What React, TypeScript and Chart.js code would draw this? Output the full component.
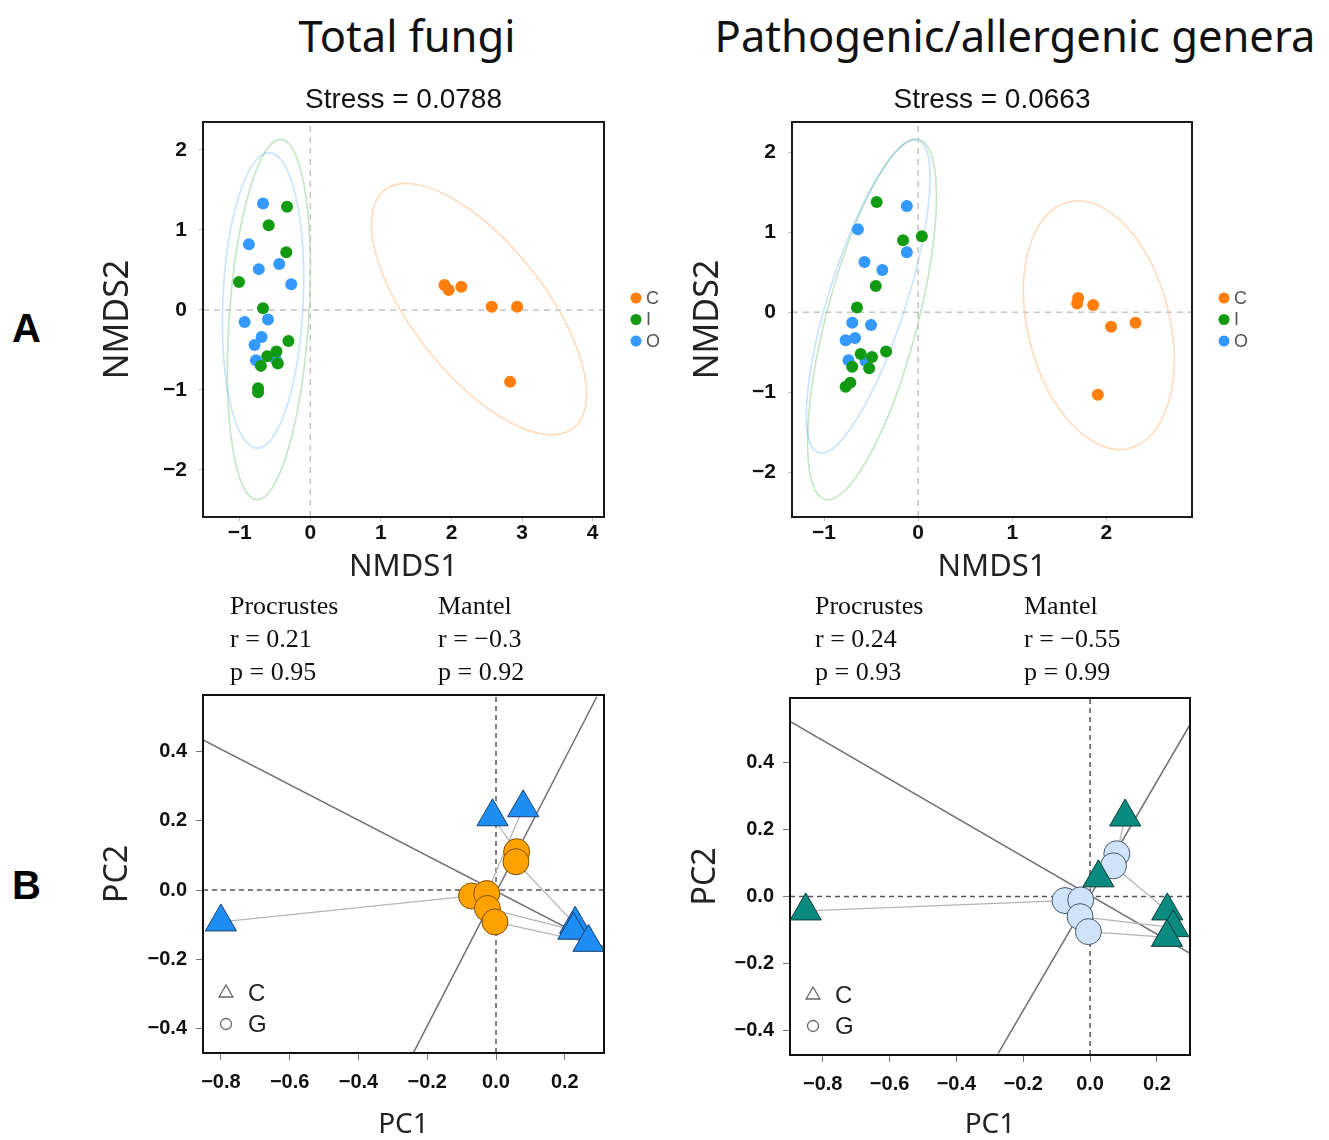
import React, { useEffect, useRef } from 'react';
import { Chart, registerables } from 'chart.js';

Chart.register(...registerables);
Chart.defaults.font.family = '"Liberation Sans", Arial, sans-serif';

// ---------------- Panel A : NMDS data ----------------
const groupNames = ['C', 'I', 'O'];
const groupColors = ['#ff7d0a', '#129a12', '#3399ff'];
const ellipseColors = ['rgba(255,125,10,0.28)', 'rgba(18,154,18,0.25)', 'rgba(51,153,255,0.28)'];

// Total fungi
const totalC = [[1.90, 0.31], [1.96, 0.25], [2.14, 0.29], [2.57, 0.04], [2.93, 0.04], [2.83, -0.90]];
const totalI = [[-0.33, 1.29], [-0.59, 1.06], [-0.34, 0.72], [-1.01, 0.35], [-0.67, 0.02], [-0.31, -0.39],
  [-0.48, -0.52], [-0.61, -0.58], [-0.70, -0.70], [-0.46, -0.67], [-0.74, -0.98], [-0.74, -1.03]];
const totalO = [[-0.67, 1.33], [-0.87, 0.82], [-0.73, 0.51], [-0.44, 0.575], [-0.27, 0.32], [-0.93, -0.15],
  [-0.60, -0.12], [-0.69, -0.34], [-0.79, -0.44], [-0.77, -0.63], [-0.49, -0.62]];
// ellipse: centre x, centre y, semi-axis u (x,y), semi-axis v (x,y) in data units
const totalEllC = [2.39, 0.01, -1.342, 1.486, 0.723, 0.514];
const totalEllI = [-0.587, -0.121, 0.173, 2.254, 0.561, -0.034];
const totalEllO = [-0.669, 0.119, 0.089, 1.848, 0.568, -0.021];
const totalXRange = [-1.52, 4.16];
const totalYRange = [-2.59, 2.35];
const totalXTicks = [-1, 0, 1, 2, 3, 4];
const totalXLabels = ['\u22121', '0', '1', '2', '3', '4'];

// Pathogenic / allergenic genera
const pathC = [[1.70, 0.18], [1.69, 0.11], [1.86, 0.09], [2.05, -0.18], [2.31, -0.13], [1.91, -1.03]];
const pathI = [[-0.44, 1.38], [-0.16, 0.90], [0.04, 0.95], [-0.45, 0.33], [-0.65, 0.06], [-0.34, -0.49],
  [-0.61, -0.52], [-0.49, -0.56], [-0.70, -0.68], [-0.52, -0.70], [-0.72, -0.88], [-0.77, -0.93]];
const pathO = [[-0.12, 1.33], [-0.64, 1.04], [-0.12, 0.75], [-0.57, 0.63], [-0.38, 0.53], [-0.70, -0.13],
  [-0.50, -0.16], [-0.67, -0.32], [-0.77, -0.35], [-0.74, -0.60], [-0.56, -0.61]];
const pathEllC = [1.92, -0.16, -0.326, 1.54, 0.731, 0.214];
const pathEllI = [-0.49, -0.09, 0.50, 2.25, 0.468, -0.144];
const pathEllO = [-0.53, 0.20, 0.528, 1.956, 0.391, -0.146];
const pathXRange = [-1.34, 2.91];
const pathYRange = [-2.56, 2.38];
const pathXTicks = [-1, 0, 1, 2];
const pathXLabels = ['\u22121', '0', '1', '2'];

const nmdsYTicks = [-2, -1, 0, 1, 2];
const nmdsYLabels = ['\u22122', '\u22121', '0', '1', '2'];

// ---------------- Panel B : Procrustes data ----------------
const totalTriC = [[-0.80, -0.092], [-0.010, 0.212], [0.079, 0.238], [0.230, -0.099], [0.225, -0.116], [0.269, -0.151]];
const totalCircG = [[0.060, 0.111], [0.058, 0.082], [-0.071, -0.017], [-0.027, -0.010], [-0.025, -0.053], [-0.003, -0.092]];
const totalPairs = [[0, 2], [1, 0], [2, 3], [3, 1], [4, 4], [5, 5]];
const totalAxis1 = [[-0.852, 0.434], [0.314, -0.165]];
const totalAxis2 = [[-0.241, -0.472], [0.293, 0.559]];
const totalPcXRange = [-0.852, 0.314];
const totalPcYRange = [-0.471, 0.564];

const pathTriC = [[-0.851, -0.043], [0.105, 0.238], [0.025, 0.056], [0.231, -0.043], [0.249, -0.093], [0.230, -0.122]];
const pathCircG = [[0.080, 0.128], [0.070, 0.092], [-0.075, -0.012], [-0.028, -0.010], [-0.030, -0.060], [-0.005, -0.105]];
const pathPairs = [[0, 2], [1, 0], [2, 3], [3, 1], [4, 4], [5, 5]];
const pathAxis1 = [[-0.898, 0.524], [0.299, -0.170]];
const pathAxis2 = [[-0.275, -0.469], [0.299, 0.514]];
const pathPcXRange = [-0.898, 0.299];
const pathPcYRange = [-0.474, 0.594];

const pcXTicks = [-0.8, -0.6, -0.4, -0.2, 0, 0.2];
const pcXLabels = ['\u22120.8', '\u22120.6', '\u22120.4', '\u22120.2', '0.0', '0.2'];
const pcYTicks = [-0.4, -0.2, 0, 0.2, 0.4];
const pcYLabels = ['\u22120.4', '\u22120.2', '0.0', '0.2', '0.4'];

const toXY = (arr: number[][]) => arr.map(([x, y]) => ({ x, y }));

// ---------------- plugins ----------------
const ellipsePlugin = {
  id: 'ellipses',
  beforeDatasetsDraw(chart: any, _a: any, opts: any) {
    if (!opts || !opts.items) return;
    const { ctx, chartArea: ca } = chart;
    const xs = chart.scales.x;
    const ys = chart.scales.y;
    ctx.save();
    ctx.beginPath();
    ctx.rect(ca.left, ca.top, ca.right - ca.left, ca.bottom - ca.top);
    ctx.clip();
    for (const it of opts.items) {
      const [cx, cy, ux, uy, vx, vy] = it.p;
      const px = xs.getPixelForValue(cx);
      const py = ys.getPixelForValue(cy);
      const ax = xs.getPixelForValue(cx + ux) - px;
      const ay = ys.getPixelForValue(cy + uy) - py;
      const bx = xs.getPixelForValue(cx + vx) - px;
      const by = ys.getPixelForValue(cy + vy) - py;
      ctx.save();
      ctx.beginPath();
      ctx.transform(ax, ay, bx, by, px, py);
      ctx.arc(0, 0, 1, 0, Math.PI * 2);
      ctx.restore();
      ctx.strokeStyle = it.color;
      ctx.lineWidth = 1.6;
      ctx.stroke();
    }
    ctx.restore();
  },
};

const framePlugin = {
  id: 'frame',
  afterDatasetsDraw(chart: any, _a: any, opts: any) {
    const { ctx, chartArea: ca } = chart;
    ctx.save();
    ctx.strokeStyle = opts.color || '#222';
    ctx.lineWidth = opts.width || 2;
    ctx.strokeRect(ca.left, ca.top, ca.right - ca.left, ca.bottom - ca.top);
    if (opts.title) {
      ctx.fillStyle = '#111';
      ctx.font = '28px "Liberation Sans", Arial, sans-serif';
      ctx.textAlign = 'center';
      ctx.textBaseline = 'middle';
      ctx.fillText(opts.title, (ca.left + ca.right) / 2, ca.top - 22);
    }
    if (opts.groupLegend) {
      const cy = (ca.top + ca.bottom) / 2;
      groupNames.forEach((name, i) => {
        const y = cy + (i - 1) * 21.5;
        ctx.fillStyle = groupColors[i];
        ctx.beginPath();
        ctx.arc(ca.right + 32, y, 5.5, 0, Math.PI * 2);
        ctx.fill();
        ctx.fillStyle = '#555';
        ctx.font = '18px "Liberation Sans", Arial, sans-serif';
        ctx.textAlign = 'left';
        ctx.textBaseline = 'middle';
        ctx.fillText(name, ca.right + 42, y + 1);
      });
    }
    if (opts.shapeLegend) {
      const x = ca.left + 23;
      const y1 = ca.bottom - 60;
      const y2 = ca.bottom - 29;
      ctx.strokeStyle = '#666';
      ctx.lineWidth = 1.3;
      ctx.beginPath();
      const r = 8;
      ctx.moveTo(x, y1 - r);
      ctx.lineTo(x + r * 0.866, y1 + r * 0.5);
      ctx.lineTo(x - r * 0.866, y1 + r * 0.5);
      ctx.closePath();
      ctx.stroke();
      ctx.beginPath();
      ctx.arc(x, y2, 5.5, 0, Math.PI * 2);
      ctx.stroke();
      ctx.fillStyle = '#222';
      ctx.font = '24px "Liberation Sans", Arial, sans-serif';
      ctx.textAlign = 'left';
      ctx.textBaseline = 'middle';
      ctx.fillText('C', x + 22, y1 + 1);
      ctx.fillText('G', x + 22, y2 + 1);
    }
    ctx.restore();
  },
};

// ---------------- config builders ----------------
function axis(o: any) {
  return {
    type: 'linear',
    position: o.position,
    min: o.range[0],
    max: o.range[1],
    afterBuildTicks: (s: any) => { s.ticks = o.ticks.map((v: number) => ({ value: v })); },
    afterFit: (s: any) => {
      if (o.position === 'bottom') s.height = o.size; else s.width = o.size;
      s.paddingTop = 0; s.paddingBottom = 0; s.paddingLeft = 0; s.paddingRight = 0;
    },
    ticks: {
      autoSkip: false,
      maxRotation: 0,
      callback: (_v: any, i: number) => o.labels[i],
      color: '#111',
      padding: o.tickPad,
      font: { size: o.tickSize, weight: 'bold', lineHeight: 1 },
    },
    grid: { display: true, drawOnChartArea: false, drawTicks: true, tickLength: o.tickLen, color: o.tickColor, tickColor: o.tickColor },
    border: { display: false },
    title: {
      display: true,
      text: o.title,
      color: '#222',
      font: { family: '"Noto Sans", "Open Sans", sans-serif', size: o.titleSize, lineHeight: 1 },
      padding: o.position === 'bottom' ? { top: 0, bottom: o.titlePad } : { top: o.titlePad, bottom: 0 },
    },
  };
}

function zeroLines(xr: number[], yr: number[], color: string, dash: number[], order: number) {
  const base = { showLine: true, pointRadius: 0, borderColor: color, borderWidth: 1.5, borderDash: dash, order };
  return [
    { ...base, data: [{ x: 0, y: yr[0] }, { x: 0, y: yr[1] }] },
    { ...base, data: [{ x: xr[0], y: 0 }, { x: xr[1], y: 0 }] },
  ];
}

function nmdsConfig(p: any) {
  const groups = [p.c, p.i, p.o];
  const datasets: any[] = groups.map((g: number[][], k: number) => ({
    label: groupNames[k],
    data: toXY(g),
    pointRadius: 6,
    pointBackgroundColor: groupColors[k],
    pointBorderWidth: 0,
    showLine: false,
    order: 0,
  }));
  datasets.push(...zeroLines(p.xr, p.yr, '#c4c4c4', [6, 5], 5));
  return {
    type: 'scatter',
    data: { datasets },
    options: {
      animation: false,
      responsive: false,
      events: [],
      layout: { autoPadding: false, padding: { top: 42, right: p.padRight, left: 0, bottom: 0 } },
      plugins: {
        legend: { display: false },
        tooltip: { enabled: false },
        ellipses: { items: p.ell.map((e: number[], k: number) => ({ p: e, color: ellipseColors[k] })) },
        frame: { title: p.stress, groupLegend: true, color: '#1a1a1a', width: 2 },
      },
      scales: {
        x: axis({ position: 'bottom', range: p.xr, ticks: p.xTicks, labels: p.xLabels, size: 83, tickPad: 2, tickSize: 21,
          tickLen: 4, tickColor: '#bdbdbd', title: 'NMDS1', titleSize: 31, titlePad: 17 }),
        y: axis({ position: 'left', range: p.yr, ticks: nmdsYTicks, labels: nmdsYLabels, size: p.yWidth, tickPad: 12, tickSize: 21,
          tickLen: 4, tickColor: '#bdbdbd', title: 'NMDS2', titleSize: 34, titlePad: p.yTitlePad }),
      },
    },
    plugins: [ellipsePlugin, framePlugin],
  };
}

function pcConfig(p: any) {
  const datasets: any[] = [
    {
      label: 'C', data: toXY(p.tri), pointStyle: 'triangle', pointRadius: 18,
      pointBackgroundColor: p.triColor, pointBorderColor: p.triBorder, pointBorderWidth: 1, showLine: false, order: 0,
    },
    {
      label: 'G', data: toXY(p.circ), pointStyle: 'circle', pointRadius: 13,
      pointBackgroundColor: p.circColor, pointBorderColor: p.circBorder, pointBorderWidth: 1, showLine: false, order: 1,
    },
  ];
  p.pairs.forEach(([t, c]: number[]) => {
    datasets.push({
      data: [{ x: p.tri[t][0], y: p.tri[t][1] }, { x: p.circ[c][0], y: p.circ[c][1] }],
      showLine: true, pointRadius: 0, borderColor: '#b4b4b4', borderWidth: 1.3, order: 2,
    });
  });
  [p.axis1, p.axis2].forEach((ln: number[][]) => {
    datasets.push({ data: toXY(ln), showLine: true, pointRadius: 0, borderColor: '#6e6e6e', borderWidth: 1.5, order: 3 });
  });
  datasets.push(...zeroLines(p.xr, p.yr, '#555', [5, 4], 4));
  return {
    type: 'scatter',
    data: { datasets },
    options: {
      animation: false,
      responsive: false,
      events: [],
      layout: { autoPadding: false, padding: { top: p.padTop, right: p.padRight, left: 0, bottom: 0 } },
      plugins: {
        legend: { display: false },
        tooltip: { enabled: false },
        frame: { shapeLegend: true, color: '#111', width: 2 },
      },
      scales: {
        x: axis({ position: 'bottom', range: p.xr, ticks: pcXTicks, labels: pcXLabels, size: p.xHeight, tickPad: 12, tickSize: 20,
          tickLen: 7, tickColor: '#777', title: 'PC1', titleSize: 28, titlePad: 1 }),
        y: axis({ position: 'left', range: p.yr, ticks: pcYTicks, labels: pcYLabels, size: p.yWidth, tickPad: 9, tickSize: 20,
          tickLen: 7, tickColor: '#777', title: 'PC2', titleSize: 32, titlePad: p.yTitlePad }),
      },
    },
    plugins: [framePlugin],
  };
}

// ---------------- components ----------------
function Panel({ left, top, width, height, config }: any) {
  const ref = useRef<HTMLCanvasElement>(null);
  useEffect(() => {
    const chart = new Chart(ref.current as HTMLCanvasElement, config as any);
    return () => chart.destroy();
  }, []);
  return (
    <canvas ref={ref} width={width} height={height}
      style={{ position: 'absolute', left, top, width, height }} />
  );
}

const txt = (left: number, top: number, text: string, style: any = {}) => (
  <div style={{ position: 'absolute', left, top, whiteSpace: 'nowrap', ...style }}>{text}</div>
);

const serif = { fontFamily: '"Liberation Serif", "Times New Roman", serif', fontSize: 26, lineHeight: '26px', color: '#111' };
const bigTitle = { position: 'absolute', top: 10, textAlign: 'center', fontFamily: '"Noto Sans", sans-serif', fontSize: 43.5, lineHeight: '50px', color: '#111', whiteSpace: 'nowrap' } as any;

export default function App() {
  return (
    <div style={{ position: 'fixed', left: 0, top: 0, width: 1329, height: 1140, overflow: 'hidden', background: '#fff' }}>
      <div style={{ ...bigTitle, left: 207, width: 400 }}>Total fungi</div>
      <div style={{ ...bigTitle, left: 665, width: 700 }}>Pathogenic/allergenic genera</div>
      {txt(12, 306, 'A', { fontFamily: '"Liberation Sans", Arial, sans-serif', fontWeight: 'bold', fontSize: 40, lineHeight: '44px' })}
      {txt(12, 863, 'B', { fontFamily: '"Liberation Sans", Arial, sans-serif', fontWeight: 'bold', fontSize: 40, lineHeight: '44px' })}

      <Panel left={90} top={80} width={630} height={520} config={nmdsConfig({
        c: totalC, i: totalI, o: totalO, ell: [totalEllC, totalEllI, totalEllO],
        xr: totalXRange, yr: totalYRange, xTicks: totalXTicks, xLabels: totalXLabels,
        stress: 'Stress = 0.0788', padRight: 116, yWidth: 113, yTitlePad: 11,
      })} />
      <Panel left={679} top={80} width={650} height={520} config={nmdsConfig({
        c: pathC, i: pathI, o: pathO, ell: [pathEllC, pathEllI, pathEllO],
        xr: pathXRange, yr: pathYRange, xTicks: pathXTicks, xLabels: pathXLabels,
        stress: 'Stress = 0.0663', padRight: 137, yWidth: 113, yTitlePad: 12,
      })} />

      {txt(230, 593, 'Procrustes', serif)}
      {txt(230, 626, 'r = 0.21', serif)}
      {txt(230, 659, 'p = 0.95', serif)}
      {txt(438, 593, 'Mantel', serif)}
      {txt(438, 626, 'r = \u22120.3', serif)}
      {txt(438, 659, 'p = 0.92', serif)}
      {txt(815, 593, 'Procrustes', serif)}
      {txt(815, 626, 'r = 0.24', serif)}
      {txt(815, 659, 'p = 0.93', serif)}
      {txt(1024, 593, 'Mantel', serif)}
      {txt(1024, 626, 'r = \u22120.55', serif)}
      {txt(1024, 659, 'p = 0.99', serif)}

      <Panel left={90} top={690} width={530} height={450} config={pcConfig({
        tri: totalTriC, circ: totalCircG, pairs: totalPairs, axis1: totalAxis1, axis2: totalAxis2,
        xr: totalPcXRange, yr: totalPcYRange,
        triColor: '#1e8ef5', triBorder: '#17406e', circColor: '#ffa200', circBorder: '#7a5000',
        padTop: 5, padRight: 16, yWidth: 113, xHeight: 87, yTitlePad: 12,
      })} />
      <Panel left={679} top={690} width={650} height={450} config={pcConfig({
        tri: pathTriC, circ: pathCircG, pairs: pathPairs, axis1: pathAxis1, axis2: pathAxis2,
        xr: pathPcXRange, yr: pathPcYRange,
        triColor: '#0b8a80', triBorder: '#0a3b38', circColor: '#cfe4fb', circBorder: '#45576a',
        padTop: 8, padRight: 139, yWidth: 111, xHeight: 85, yTitlePad: 11,
      })} />
    </div>
  );
}
